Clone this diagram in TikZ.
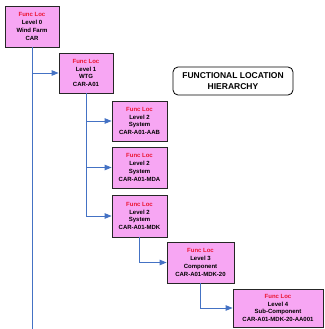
\documentclass[tikz,border=0pt]{standalone}
\usepackage{fontspec}
\setmainfont{Liberation Sans}
\usetikzlibrary{arrows.meta}

\definecolor{flpink}{RGB}{247,166,243}
\definecolor{flblue}{RGB}{68,114,196}
\definecolor{flred}{RGB}{235,20,50}
\newcommand\flhead{\textcolor{flred}{Func Loc}}

\tikzset{
  flbox/.style={draw=black!85, line width=0.8pt, fill=flpink, align=center,
    inner sep=0pt, font=\bfseries\fontsize{6}{7.7}\selectfont},
  titlebox/.style={draw=black, line width=0.8pt, fill=white, rounded corners=5pt,
    align=center, inner sep=0pt, minimum width=120pt, minimum height=28pt,
    font=\bfseries\fontsize{8.5}{11.5}\selectfont},
  link/.style={draw=flblue, line width=0.9pt},
  linkarrow/.style={link, -{Triangle[length=7pt,width=5.5pt]}}
}

\begin{document}
\begin{tikzpicture}[x=1pt,y=-1pt]
\useasboundingbox (0,0) rectangle (324,329);

% functional location boxes
\node[flbox, minimum width=54pt, minimum height=41pt] (fl0) at (32,26.5)
  {\flhead\\Level 0\\Wind Farm\\CAR};
\node[flbox, minimum width=54pt, minimum height=40pt] (fl1) at (86,73)
  {\flhead\\Level 1\\WTG\\CAR-A01};
\node[flbox, minimum width=55pt, minimum height=40pt] (aab) at (139.5,121)
  {\flhead\\Level 2\\System\\CAR-A01-AAB};
\node[flbox, minimum width=55pt, minimum height=41pt] (mda) at (139.5,167.5)
  {\flhead\\Level 2\\System\\CAR-A01-MDA};
\node[flbox, minimum width=55pt, minimum height=42pt] (mdk) at (139.5,216)
  {\flhead\\Level 2\\System\\CAR-A01-MDK};
\node[flbox, minimum width=67pt, minimum height=41pt] (l3) at (200.5,262.5)
  {\flhead\\Level 3\\Component\\CAR-A01-MDK-20};
\node[flbox, minimum width=90pt, minimum height=38pt] (l4) at (278,308)
  {\flhead\\Level 4\\Sub-Component\\CAR-A01-MDK-20-AA001};

% title
\node[titlebox] (title) at (233,81) {FUNCTIONAL LOCATION\\HIERARCHY};

% connectors
\coordinate (tail) at (32,328.5);
\draw[link] (fl0.south) -- (tail);
\draw[linkarrow] (fl0.south) |- (fl1.west);
\draw[linkarrow] (fl1.south) |- (aab.west);
\draw[linkarrow] (fl1.south) |- (mda.west);
\draw[linkarrow] (fl1.south) |- (mdk.west);
\draw[linkarrow] (mdk.south) |- (l3.west);
\draw[linkarrow] (l3.south) |- (l4.west);
\end{tikzpicture}
\end{document}
